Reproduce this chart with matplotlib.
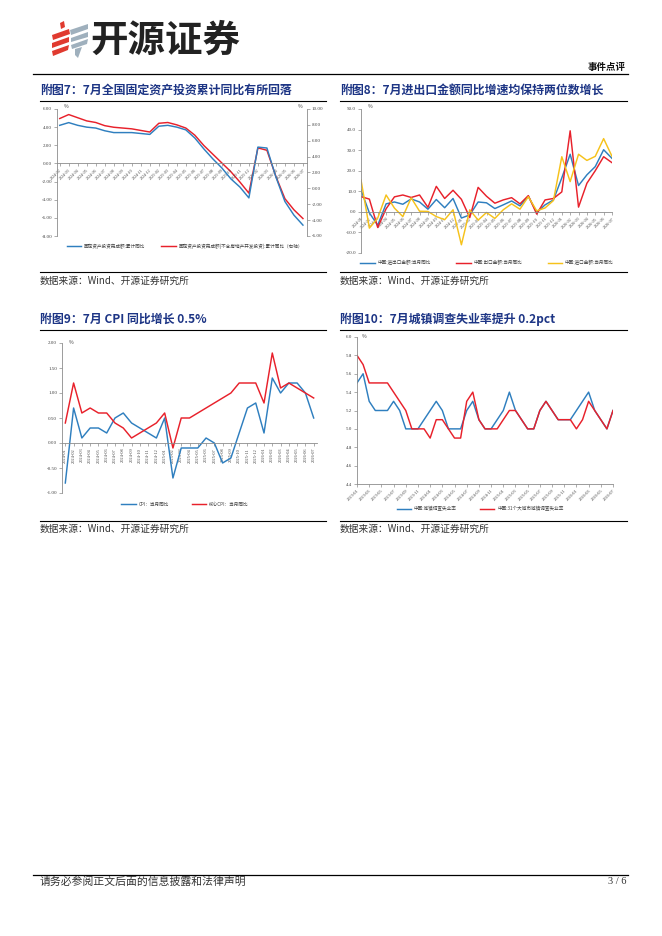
import matplotlib
matplotlib.use('Agg')
import matplotlib.pyplot as plt
from matplotlib.patches import Polygon
from matplotlib.lines import Line2D
import numpy as np

plt.rcParams['font.family'] = ['Noto Sans CJK SC', 'DejaVu Sans']
plt.rcParams['axes.unicode_minus'] = False

# ---------------- data ----------------
fai_labels = ['2024-02', '2024-03', '2024-04', '2024-05', '2024-06', '2024-07', '2024-08',
              '2024-09', '2024-10', '2024-11', '2024-12', '2025-02', '2025-03', '2025-04',
              '2025-05', '2025-06', '2025-07', '2025-08', '2025-09', '2025-10', '2025-11',
              '2025-12', '2026-02', '2026-03', '2026-04', '2026-05', '2026-06', '2026-07']
fai_total = [4.2, 4.5, 4.2, 4.0, 3.9, 3.6, 3.4, 3.4, 3.4, 3.3, 3.2, 4.1, 4.2, 4.0,
             3.7, 2.8, 1.6, 0.5, -0.5, -1.7, -2.6, -3.8, 1.8, 1.7, -1.5, -4.2, -5.7, -6.8]
fai_ex_re = [8.8, 9.3, 8.9, 8.5, 8.3, 7.9, 7.7, 7.6, 7.5, 7.3, 7.1, 8.2, 8.3, 8.0,
             7.6, 6.7, 5.4, 4.3, 3.2, 2.1, 0.8, -0.6, 5.1, 4.8, 1.5, -1.3, -2.7, -3.8]

month_labels = ['2024-01', '2024-02', '2024-03', '2024-04', '2024-05', '2024-06', '2024-07',
                '2024-08', '2024-09', '2024-10', '2024-11', '2024-12', '2025-01', '2025-02',
                '2025-03', '2025-04', '2025-05', '2025-06', '2025-07', '2025-08', '2025-09',
                '2025-10', '2025-11', '2025-12', '2026-01', '2026-02', '2026-03', '2026-04',
                '2026-05', '2026-06', '2026-07']
trade_total = [10.6, -0.5, -6.5, 3.9, 4.8, 3.7, 6.3, 4.8, 1.3, 6.0, 2.0, 6.5, -3.0, -1.5,
               4.8, 4.4, 1.6, 3.4, 5.3, 2.9, 7.6, -0.3, 3.4, 5.8, 16.5, 28.0, 12.8, 18.0,
               22.0, 30.2, 26.0]
exports = [7.4, 6.2, -7.6, 1.5, 7.3, 8.2, 7.0, 8.2, 2.2, 12.4, 6.5, 10.5, 6.1, -2.8,
           11.9, 7.6, 4.2, 5.8, 6.9, 3.9, 7.9, -1.1, 5.8, 6.5, 9.7, 39.4, 2.3, 13.9,
           20.0, 26.8, 23.9]
imports = [15.5, -7.9, -3.0, 8.2, 1.8, -2.3, 6.8, 0.3, 0.2, -2.3, -3.8, 1.0, -16.0, 1.0,
           -4.0, -0.3, -3.2, 1.0, 3.9, 1.3, 7.4, 0.5, 1.9, 5.5, 26.8, 14.7, 28.0, 25.0,
           27.0, 35.6, 27.0]

cpi = [-0.8, 0.7, 0.1, 0.3, 0.3, 0.2, 0.5, 0.6, 0.4, 0.3, 0.2, 0.1, 0.5, -0.7, -0.1,
       -0.1, -0.1, 0.1, 0.0, -0.4, -0.3, 0.2, 0.7, 0.8, 0.2, 1.3, 1.0, 1.2, 1.2, 1.0, 0.5]
core_cpi = [0.4, 1.2, 0.6, 0.7, 0.6, 0.6, 0.4, 0.3, 0.1, 0.2, 0.3, 0.4, 0.6, -0.1, 0.5,
            0.5, 0.6, 0.7, 0.8, 0.9, 1.0, 1.2, 1.2, 1.2, 0.8, 1.8, 1.1, 1.2, 1.1, 1.0, 0.9]

unemp_labels = ['2023-01', '2023-02', '2023-03', '2023-04', '2023-05', '2023-06', '2023-07',
                '2023-08', '2023-09', '2023-10', '2023-11', '2023-12', '2024-01', '2024-02',
                '2024-03', '2024-04', '2024-05', '2024-06', '2024-07', '2024-08', '2024-09',
                '2024-10', '2024-11', '2024-12', '2025-01', '2025-02', '2025-03', '2025-04',
                '2025-05', '2025-06', '2025-07', '2025-08', '2025-09', '2025-10', '2025-11',
                '2025-12', '2026-01', '2026-02', '2026-03', '2026-04', '2026-05', '2026-06',
                '2026-07']
unemp_urban = [5.5, 5.6, 5.3, 5.2, 5.2, 5.2, 5.3, 5.2, 5.0, 5.0, 5.0, 5.1,
               5.2, 5.3, 5.2, 5.0, 5.0, 5.0, 5.2, 5.3, 5.1, 5.0, 5.0, 5.1,
               5.2, 5.4, 5.2, 5.1, 5.0, 5.0, 5.2, 5.3, 5.2, 5.1, 5.1, 5.1,
               5.2, 5.3, 5.4, 5.2, 5.1, 5.0, 5.2]
unemp_31 = [5.8, 5.7, 5.5, 5.5, 5.5, 5.5, 5.4, 5.3, 5.2, 5.0, 5.0, 5.0,
            4.9, 5.1, 5.1, 5.0, 4.9, 4.9, 5.3, 5.4, 5.1, 5.0, 5.0, 5.0,
            5.1, 5.2, 5.2, 5.1, 5.0, 5.0, 5.2, 5.3, 5.2, 5.1, 5.1, 5.1,
            5.0, 5.1, 5.3, 5.2, 5.1, 5.0, 5.2]

# ---------------- styles ----------------
BLUE = '#2f7fbf'
RED = '#e8212b'
YELLOW = '#f6c21b'
NAVY = '#1d3585'
GRAY = '#8c8c8c'
TXT = '#404040'
NUMFONT = ['Liberation Serif', 'DejaVu Serif']
LW = 1.05

W, H = 662, 936
fig = plt.figure(figsize=(W / 100, H / 100), dpi=100)


def fx(x):
    return x / W


def fy(y):
    return 1 - y / H


def hline(x0, x1, y, lw=0.8, color='black'):
    fig.add_artist(Line2D([fx(x0), fx(x1)], [fy(y), fy(y)], transform=fig.transFigure,
                          color=color, lw=lw))


def make_ax(left, top, right, bottom):
    return fig.add_axes([fx(left), fy(bottom), (right - left) / W, (bottom - top) / H])


def style_ax(ax):
    for s in ['top', 'right']:
        ax.spines[s].set_visible(False)
    for s in ['left', 'bottom']:
        ax.spines[s].set_color(GRAY)
        ax.spines[s].set_linewidth(0.6)
    ax.tick_params(axis='both', colors=GRAY, length=2, width=0.5, pad=1.5,
                   labelsize=3.6, labelcolor=TXT)
    for lab in ax.get_yticklabels():
        lab.set_family(NUMFONT)


def legend(ax, handles, labels, cx, cy, colsp=5.0):
    ax.legend(handles, labels, loc='center', bbox_to_anchor=(fx(cx), fy(cy)),
              bbox_transform=fig.transFigure, ncol=len(labels), frameon=False,
              fontsize=3.3, handlelength=3.2, columnspacing=colsp, handletextpad=0.6,
              labelcolor=TXT)


# ---------------- header ----------------
red_polys = [
    [(60, 23), (64, 21), (65, 27), (61, 29)],
    [(52, 35), (69, 29), (70, 34), (53, 40)],
    [(52, 43), (69, 37), (69, 42), (52, 48)],
    [(52, 51), (69, 45), (68, 50), (53, 56)],
]
grey_polys = [
    [(70, 30), (88, 24), (88, 29), (71, 35)],
    [(71, 38), (88, 32), (88, 37), (71, 42)],
    [(71, 45), (88, 39), (87, 44), (72, 49)],
    [(75, 49), (82, 47), (78, 58), (75, 55)],
]
for poly in red_polys:
    fig.add_artist(Polygon([(fx(a), fy(b)) for a, b in poly], closed=True,
                           transform=fig.transFigure, facecolor='#e03a2f', edgecolor='none'))
for poly in grey_polys:
    fig.add_artist(Polygon([(fx(a), fy(b)) for a, b in poly], closed=True,
                           transform=fig.transFigure, facecolor='#9fb0bd', edgecolor='none'))
fig.text(fx(90), fy(40), '开源证券', fontsize=27, fontweight='bold', color='#222222',
         ha='left', va='center')
fig.text(fx(626), fy(67), '事件点评', fontsize=6.8, fontweight='bold', color='#111111',
         ha='right', va='center')
hline(33, 628, 74, lw=0.9)

# section titles and rules
fig.text(fx(40), fy(90), '附图7：7月全国固定资产投资累计同比有所回落', fontsize=8.6,
         fontweight='bold', color=NAVY, ha='left', va='center')
fig.text(fx(340), fy(90), '附图8：7月进出口金额同比增速均保持两位数增长', fontsize=8.6,
         fontweight='bold', color=NAVY, ha='left', va='center')
fig.text(fx(40), fy(319), '附图9：7月 CPI 同比增长 0.5%', fontsize=8.6,
         fontweight='bold', color=NAVY, ha='left', va='center')
fig.text(fx(340), fy(319), '附图10：7月城镇调查失业率提升 0.2pct', fontsize=8.6,
         fontweight='bold', color=NAVY, ha='left', va='center')
hline(40, 326, 101)
hline(340, 627, 101)
hline(40, 326, 330)
hline(340, 627, 330)

hline(40, 326, 272)
hline(340, 627, 272)
hline(40, 326, 521)
hline(340, 627, 521)
for x0 in (40, 340):
    fig.text(fx(x0), fy(281), '数据来源：Wind、开源证券研究所', fontsize=7.0, color='#333333',
             ha='left', va='center')
    fig.text(fx(x0), fy(529), '数据来源：Wind、开源证券研究所', fontsize=7.0, color='#333333',
             ha='left', va='center')

# footer
hline(33, 628, 875, lw=0.9)
fig.text(fx(40), fy(882), '请务必参阅正文后面的信息披露和法律声明', fontsize=7.8,
         color='#333333', ha='left', va='center')
fig.text(fx(626), fy(882), '3 / 6', fontsize=7.5, color='#333333', ha='right', va='center',
         family=NUMFONT)

# ---------------- chart 7 ----------------
ax7 = make_ax(57, 109, 307, 236)
x7 = np.arange(len(fai_labels))
l1, = ax7.plot(x7, fai_total, color=BLUE, lw=LW)
ax7.set_xlim(-0.3, len(fai_labels) - 1 + 0.45)
ax7.set_ylim(-8, 6)
ax7.set_yticks(np.arange(-8, 6.01, 2))
ax7.set_yticklabels(['%.2f' % v for v in np.arange(-8, 6.01, 2)])
ax7.spines['bottom'].set_position(('data', 0))
style_ax(ax7)
ax7.set_xticks(x7)
ax7.set_xticklabels(fai_labels, rotation=45, ha='right', va='top', fontsize=3.0,
                    family=NUMFONT, rotation_mode='anchor')
ax7r = ax7.twinx()
l2, = ax7r.plot(x7, fai_ex_re, color=RED, lw=LW)
ax7r.set_ylim(-6, 10)
ax7r.set_yticks(np.arange(-6, 10.01, 2))
ax7r.set_yticklabels(['%.2f' % v for v in np.arange(-6, 10.01, 2)])
for s in ['top', 'left', 'bottom']:
    ax7r.spines[s].set_visible(False)
ax7r.spines['right'].set_color(GRAY)
ax7r.spines['right'].set_linewidth(0.6)
ax7r.tick_params(axis='y', colors=GRAY, length=2, width=0.5, pad=1.5, labelsize=3.6,
                 labelcolor=TXT)
for lab in ax7r.get_yticklabels():
    lab.set_family(NUMFONT)
ax7.set_zorder(ax7r.get_zorder() + 1)
ax7.patch.set_visible(False)
ax7.text(0.025, 1.0, '%', transform=ax7.transAxes, fontsize=3.6, color=TXT, va='bottom')
ax7.text(0.965, 1.0, '%', transform=ax7.transAxes, fontsize=3.6, color=TXT, va='bottom')
legend(ax7, [l1, l2], ['固定资产投资完成额:累计同比',
                       '固定资产投资完成额(不含房地产开发投资):累计同比（右轴）'], 185, 246, colsp=3.5)

# ---------------- chart 8 ----------------
ax8 = make_ax(361, 109, 612, 253)
x8 = np.arange(len(month_labels))
h1, = ax8.plot(x8, trade_total, color=BLUE, lw=LW)
h2, = ax8.plot(x8, exports, color=RED, lw=LW)
h3, = ax8.plot(x8, imports, color=YELLOW, lw=LW)
ax8.set_xlim(0, len(month_labels) - 1)
ax8.set_ylim(-20, 50)
ax8.set_yticks(np.arange(-20, 50.01, 10))
ax8.set_yticklabels(['%.1f' % v for v in np.arange(-20, 50.01, 10)])
ax8.spines['bottom'].set_position(('data', 0))
style_ax(ax8)
ax8.set_xticks(x8)
ax8.set_xticklabels(month_labels, rotation=45, ha='right', va='top', fontsize=3.0,
                    family=NUMFONT, rotation_mode='anchor')
ax8.text(0.025, 1.0, '%', transform=ax8.transAxes, fontsize=3.6, color=TXT, va='bottom')
legend(ax8, [h1, h2, h3], ['中国:进出口金额:当月同比', '中国:出口金额:当月同比',
                           '中国:进口金额:当月同比'], 487, 263, colsp=5.5)

# ---------------- chart 9 ----------------
ax9 = make_ax(62, 343, 317, 493)
x9 = np.arange(len(month_labels))
c1, = ax9.plot(x9, cpi, color=BLUE, lw=LW)
c2, = ax9.plot(x9, core_cpi, color=RED, lw=LW)
ax9.set_xlim(-0.4, len(month_labels) - 1 + 0.4)
ax9.set_ylim(-1, 2)
ax9.set_yticks(np.arange(-1, 2.01, 0.5))
ax9.set_yticklabels(['%.2f' % v for v in np.arange(-1, 2.01, 0.5)])
ax9.spines['bottom'].set_position(('data', 0))
style_ax(ax9)
ax9.set_xticks(x9)
ax9.set_xticklabels(month_labels, rotation=90, ha='center', va='top', fontsize=3.2,
                    family=NUMFONT)
ax9.text(0.025, 1.0, '%', transform=ax9.transAxes, fontsize=3.6, color=TXT, va='center')
legend(ax9, [c1, c2], ['CPI：当月同比', '核心CPI：当月同比'], 185, 504, colsp=5.0)

# ---------------- chart 10 ----------------
ax10 = make_ax(357, 337, 613, 484)
x10 = np.arange(len(unemp_labels))
u1, = ax10.plot(x10, unemp_urban, color=BLUE, lw=LW)
u2, = ax10.plot(x10, unemp_31, color=RED, lw=LW)
ax10.set_xlim(0, len(unemp_labels) - 1)
ax10.set_ylim(4.4, 6.0)
ax10.set_yticks(np.arange(4.4, 6.001, 0.2))
ax10.set_yticklabels(['%.1f' % v for v in np.arange(4.4, 6.001, 0.2)])
style_ax(ax10)
ax10.set_xticks(x10[::2])
ax10.set_xticklabels(unemp_labels[::2], rotation=45, ha='right', va='top', fontsize=3.2,
                     family=NUMFONT, rotation_mode='anchor')
ax10.text(0.02, 1.0, '%', transform=ax10.transAxes, fontsize=3.6, color=TXT, va='center')
legend(ax10, [u1, u2], ['中国:城镇调查失业率', '中国:31个大城市城镇调查失业率'], 480, 509,
       colsp=5.0)

fig.savefig('out.png', dpi=100)
